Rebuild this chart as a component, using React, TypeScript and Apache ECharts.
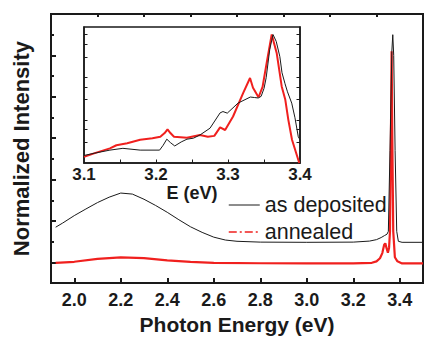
import React, { useEffect, useRef } from 'react';
import * as echarts from 'echarts';

// Main panel: photon energy (eV) vs normalized intensity
const mainDeposited: [number, number][] = [
  [1.92, 2.7], [1.95, 2.9], [2.0, 3.26], [2.05, 3.58], [2.1, 3.89], [2.15, 4.15], [2.2, 4.35],
  [2.25, 4.3], [2.3, 4.05], [2.35, 3.75], [2.4, 3.42], [2.45, 3.06], [2.5, 2.72], [2.55, 2.45],
  [2.6, 2.22], [2.65, 2.08], [2.7, 2.02], [2.8, 1.98], [3.0, 1.97], [3.2, 1.98], [3.27, 2.03],
  [3.3, 2.1], [3.32, 2.2], [3.335, 2.3], [3.345, 2.36], [3.351, 2.5], [3.358, 6.4], [3.366, 11.2],
  [3.37, 12.0], [3.374, 11.0], [3.38, 6.4], [3.387, 2.5], [3.394, 2.02], [3.41, 1.97], [3.5, 1.97],
];
const mainAnnealed: [number, number][] = [
  [1.92, 0.98], [2.0, 1.03], [2.1, 1.17], [2.2, 1.24], [2.3, 1.21], [2.4, 1.1], [2.5, 1.03],
  [2.6, 0.98], [2.8, 0.96], [3.0, 0.95], [3.2, 0.95], [3.28, 0.98], [3.3, 1.05], [3.315, 1.2],
  [3.325, 1.45], [3.333, 1.85], [3.338, 1.92], [3.343, 1.7], [3.349, 1.47], [3.354, 1.7],
  [3.358, 2.5], [3.362, 7.0], [3.365, 11.2], [3.368, 7.0], [3.372, 2.5], [3.379, 1.25],
  [3.39, 1.05], [3.41, 0.95], [3.5, 0.95],
];

// Inset: E (eV) vs intensity (log scale)
const insetDeposited: [number, number][] = [
  [3.1, 0.0015], [3.115, 0.0017], [3.136, 0.002], [3.154, 0.0022], [3.178, 0.002], [3.205, 0.002],
  [3.21, 0.0026], [3.215, 0.0036], [3.22, 0.003], [3.226, 0.0025], [3.235, 0.0031], [3.243, 0.0036],
  [3.252, 0.0038], [3.261, 0.0045], [3.275, 0.0065], [3.289, 0.0148], [3.293, 0.0159], [3.299, 0.0146],
  [3.314, 0.0251], [3.331, 0.0347], [3.337, 0.0338], [3.342, 0.033], [3.346, 0.036], [3.35, 0.055],
  [3.353, 0.098], [3.358, 0.45], [3.3625, 1.0], [3.367, 0.69], [3.372, 0.305], [3.375, 0.128],
  [3.3792, 0.071], [3.3826, 0.046], [3.3885, 0.025], [3.393, 0.0114], [3.3976, 0.0041], [3.4, 0.0035],
];
const insetAnnealed: [number, number][] = [
  [3.1, 0.0014], [3.115, 0.0017], [3.136, 0.0022], [3.145, 0.0026], [3.16, 0.0029], [3.178, 0.0035],
  [3.195, 0.0038], [3.206, 0.0041], [3.212, 0.005], [3.216, 0.0061], [3.22, 0.005], [3.225, 0.0041],
  [3.243, 0.0039], [3.261, 0.0045], [3.272, 0.0041], [3.281, 0.0043], [3.289, 0.0068], [3.296, 0.0059],
  [3.307, 0.0122], [3.321, 0.043], [3.3306, 0.0966], [3.3347, 0.0573], [3.3424, 0.0343], [3.348, 0.06],
  [3.3537, 0.217], [3.3607, 1.0], [3.3676, 0.372], [3.3746, 0.0614], [3.3796, 0.0299], [3.3838, 0.0102],
  [3.3889, 0.0035], [3.399, 0.001],
];

// Tick positions / labels
const mainXMajor = [2.0, 2.2, 2.4, 2.6, 2.8, 3.0, 3.2, 3.4];
const mainXMinor = [2.1, 2.3, 2.5, 2.7, 2.9, 3.1, 3.3];
const mainYMajor = [1, 3, 5, 7, 9, 11];
const mainYMinor = [2, 4, 6, 8, 10, 12];
const insetXLabels = [3.1, 3.2, 3.3, 3.4];
const insetXTicks = [3.15, 3.2, 3.25, 3.3, 3.35];
const insetYTicks = [0.003, 0.006, 0.01, 0.03, 0.06, 0.1, 0.3, 0.6, 1];
const insetYMin = 0.001;
const insetYMax = 1.5;

const FONT = '"Liberation Sans", Arial, Helvetica, sans-serif';
const INK = '#1a1a1a';
const RED = '#f0201e';

export default function App() {
  const ref = useRef<HTMLDivElement>(null);
  useEffect(() => {
    if (!ref.current) return;
    const chart = echarts.init(ref.current, undefined, { renderer: 'svg' });
    const lg = (v: number) => Math.log10(v);
    const fmt = (v: number) => v.toFixed(1);
    const option: any = {
      animation: false,
      backgroundColor: '#fff',
      grid: [
        { left: 51, top: 14, width: 372, height: 275, show: true, borderColor: INK, borderWidth: 2, backgroundColor: 'transparent' },
        { left: 84, top: 27, width: 216, height: 136, show: true, borderColor: INK, borderWidth: 1.5, backgroundColor: '#fff' },
      ],
      legend: {
        orient: 'vertical', left: 223, top: 189, itemWidth: 31, itemHeight: 14, itemGap: 5,
        selectedMode: false,
        textStyle: { fontFamily: FONT, fontSize: 21.5, color: INK, lineHeight: 22 },
        data: [
          { name: 'as deposited', itemStyle: { opacity: 0 }, lineStyle: { color: INK, width: 1, type: 'solid' } },
          { name: 'annealed', itemStyle: { opacity: 0 }, lineStyle: { color: RED, width: 1.5, type: [8, 3, 2, 3] } },
        ],
      },
      xAxis: [
        {
          type: 'value', gridIndex: 0, min: 1.9, max: 3.5,
          axisLine: { show: true, onZero: false, lineStyle: { color: INK, width: 2 } },
          axisTick: { show: true, inside: true, length: 5, customValues: mainXMajor, lineStyle: { color: INK, width: 2 } },
          axisLabel: { show: true, customValues: mainXMajor, formatter: fmt, fontFamily: FONT, fontSize: 18, fontWeight: 'bold', color: INK, margin: 8 },
          splitLine: { show: false },
          name: 'Photon Energy (eV)', nameLocation: 'middle', nameGap: 30,
          nameTextStyle: { fontFamily: FONT, fontSize: 21, fontWeight: 'bold', color: INK },
        },
        {
          type: 'value', gridIndex: 0, min: 1.9, max: 3.5,
          axisLine: { show: false, onZero: false },
          axisTick: { show: true, inside: true, length: 3, customValues: mainXMinor, lineStyle: { color: INK, width: 2 } },
          axisLabel: { show: false }, splitLine: { show: false },
        },
        {
          type: 'value', gridIndex: 1, min: 3.1, max: 3.4,
          axisLine: { show: true, onZero: false, lineStyle: { color: INK, width: 1.5 } },
          axisTick: { show: true, inside: true, length: 3.5, customValues: insetXTicks, lineStyle: { color: INK, width: 1 } },
          axisLabel: { show: true, customValues: insetXLabels, formatter: fmt, fontFamily: FONT, fontSize: 17, fontWeight: 'bold', color: INK, margin: 3 },
          splitLine: { show: false },
          name: 'E (eV)', nameLocation: 'middle', nameGap: 21,
          nameTextStyle: { fontFamily: FONT, fontSize: 18, fontWeight: 'bold', color: INK },
        },
      ],
      yAxis: [
        {
          type: 'value', gridIndex: 0, min: 0, max: 13, position: 'left',
          axisLine: { show: true, onZero: false, lineStyle: { color: INK, width: 2 } },
          axisTick: { show: true, inside: true, length: 5, customValues: mainYMajor, lineStyle: { color: INK, width: 2 } },
          axisLabel: { show: false }, splitLine: { show: false },
          name: 'Normalized Intensity', nameLocation: 'middle', nameGap: 19,
          nameTextStyle: { fontFamily: FONT, fontSize: 22, fontWeight: 'bold', color: INK },
        },
        {
          type: 'value', gridIndex: 0, min: 0, max: 13, position: 'left',
          axisLine: { show: false, onZero: false },
          axisTick: { show: true, inside: true, length: 3, customValues: mainYMinor, lineStyle: { color: INK, width: 2 } },
          axisLabel: { show: false }, splitLine: { show: false },
        },
        {
          type: 'value', gridIndex: 1, min: lg(insetYMin), max: lg(insetYMax), position: 'left',
          axisLine: { show: true, onZero: false, lineStyle: { color: INK, width: 1.5 } },
          axisTick: { show: true, inside: true, length: 3.5, customValues: insetYTicks.map(lg), lineStyle: { color: INK, width: 1 } },
          axisLabel: { show: false }, splitLine: { show: false },
        },
        {
          type: 'value', gridIndex: 1, min: lg(insetYMin), max: lg(insetYMax), position: 'right',
          axisLine: { show: true, onZero: false, lineStyle: { color: INK, width: 1.5 } },
          axisTick: { show: true, inside: true, length: 3.5, customValues: insetYTicks.map(lg), lineStyle: { color: INK, width: 1 } },
          axisLabel: { show: false }, splitLine: { show: false },
        },
      ],
      series: [
        {
          name: 'as deposited', type: 'line', xAxisIndex: 0, yAxisIndex: 0, data: mainDeposited,
          symbol: 'none', lineStyle: { color: INK, width: 1 }, itemStyle: { color: INK }, z: 4,
        },
        {
          name: 'annealed', type: 'line', xAxisIndex: 0, yAxisIndex: 0, data: mainAnnealed,
          symbol: 'none', lineStyle: { color: RED, width: 2.2 }, itemStyle: { color: RED }, z: 3,
        },
        {
          name: 'as deposited', type: 'line', xAxisIndex: 2, yAxisIndex: 2,
          data: insetDeposited.map(([e, v]) => [e, lg(v)]),
          symbol: 'none', lineStyle: { color: INK, width: 1 }, itemStyle: { color: INK }, z: 4,
        },
        {
          name: 'annealed', type: 'line', xAxisIndex: 2, yAxisIndex: 2,
          data: insetAnnealed.map(([e, v]) => [e, lg(v)]),
          symbol: 'none', lineStyle: { color: RED, width: 2 }, itemStyle: { color: RED }, z: 3,
        },
      ],
    };
    chart.setOption(option);
    return () => chart.dispose();
  }, []);
  return <div ref={ref} style={{ position: 'fixed', left: 0, top: 0, width: 424, height: 340 }} />;
}
